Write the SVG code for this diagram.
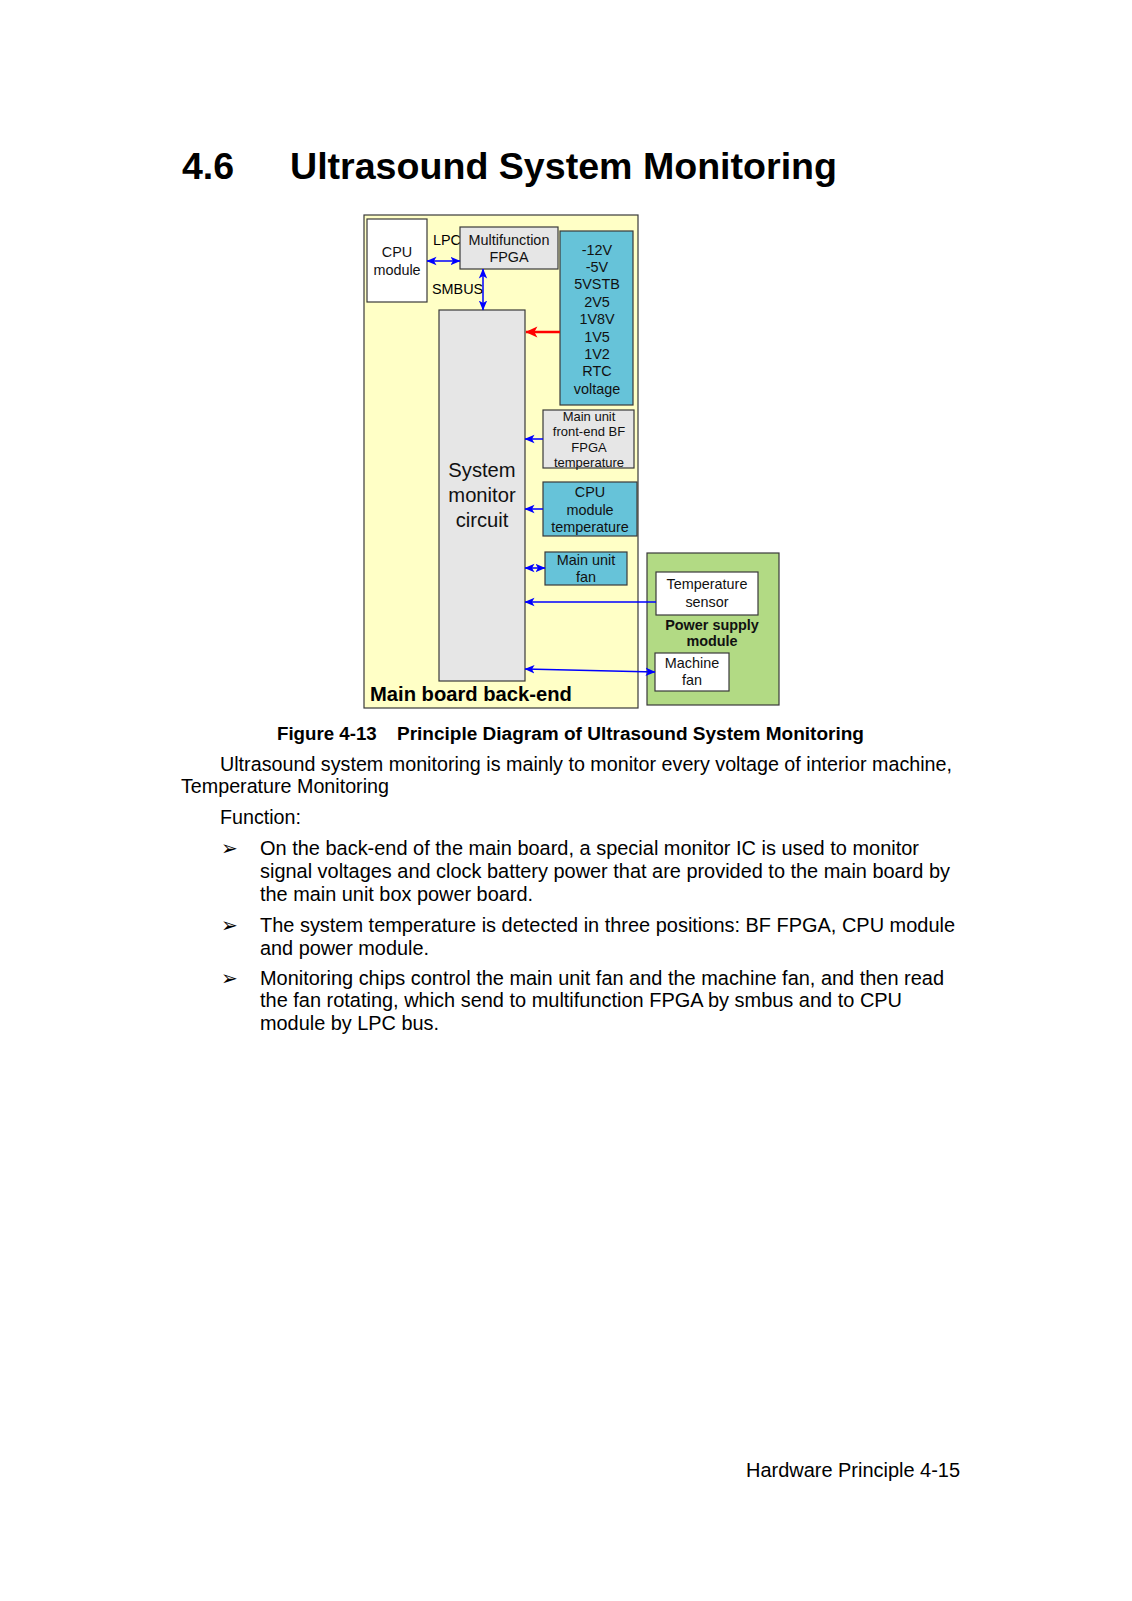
<svg xmlns="http://www.w3.org/2000/svg" width="1132" height="1601" viewBox="0 0 1132 1601">
<defs>
<style>
.t{font-family:"Liberation Sans",Arial,sans-serif;fill:#000}
.d{font-family:"Liberation Sans",Arial,sans-serif;font-size:14.4px;fill:#111;text-anchor:middle}
.sm{font-size:13px}
.big{font-size:20.2px}
.bd{font-weight:bold}
.b{stroke:#3a3a3a;stroke-width:1.2}
.c{stroke:#0000ff;stroke-width:1.5;fill:none}
.body{font-family:"Liberation Sans",Arial,sans-serif;font-size:19.7px;fill:#000}
.bul{font-family:"DejaVu Sans",sans-serif;font-size:20px;fill:#000}
</style>
<marker id="ab" viewBox="0 0 10 10" refX="9.5" refY="5" markerWidth="10" markerHeight="10" markerUnits="userSpaceOnUse" orient="auto-start-reverse">
<path d="M0,0.8 L10,5 L0,9.2 L2.5,5 Z" fill="#0000ff"/>
</marker>
<marker id="ar" viewBox="0 0 10 10" refX="9.5" refY="5" markerWidth="13" markerHeight="12" markerUnits="userSpaceOnUse" orient="auto">
<path d="M0,0.5 L10,5 L0,9.5 L2.5,5 Z" fill="#ff0000"/>
</marker>
</defs>
<rect width="1132" height="1601" fill="#fff"/>

<text class="t" x="182" y="179" font-size="37.5" font-weight="bold">4.6</text>
<text class="t" x="290" y="179" font-size="37.5" font-weight="bold" textLength="547" lengthAdjust="spacingAndGlyphs">Ultrasound System Monitoring</text>

<g id="main-board">
<rect class="b" x="364" y="215" width="274" height="493" fill="#ffffc6"/>
<text class="t" x="370" y="701" font-size="20.2" font-weight="bold">Main board back-end</text>
</g>

<g id="labels">
<text class="t" x="433" y="245" font-size="14.4">LPC</text>
<text class="t" x="432" y="294" font-size="14.4">SMBUS</text>
</g>

<g id="cpu-module">
<rect class="b" x="367" y="219" width="60" height="83" fill="#fff"/>
<text class="d" x="397" y="257">CPU</text>
<text class="d" x="397" y="275">module</text>
</g>

<g id="multifunction-fpga">
<rect class="b" x="460" y="227" width="98" height="42" fill="#e6e6e6"/>
<text class="d" x="509" y="245">Multifunction</text>
<text class="d" x="509" y="262">FPGA</text>
</g>

<g id="voltages">
<rect class="b" x="560" y="231" width="73" height="174" fill="#66c3d9"/>
<text class="d" x="597" y="254.5">-12V</text>
<text class="d" x="597" y="271.9">-5V</text>
<text class="d" x="597" y="289.3">5VSTB</text>
<text class="d" x="597" y="306.7">2V5</text>
<text class="d" x="597" y="324.1">1V8V</text>
<text class="d" x="597" y="341.5">1V5</text>
<text class="d" x="597" y="358.9">1V2</text>
<text class="d" x="597" y="376.3">RTC</text>
<text class="d" x="597" y="393.7">voltage</text>
</g>

<g id="system-monitor">
<rect class="b" x="439" y="310" width="86" height="371" fill="#e6e6e6"/>
<text class="d big" x="482" y="477">System</text>
<text class="d big" x="482" y="502">monitor</text>
<text class="d big" x="482" y="527">circuit</text>
</g>

<g id="bf-fpga-temp">
<rect class="b" x="543" y="410" width="91" height="58" fill="#e6e6e6"/>
<text class="d sm" x="589" y="420.5">Main unit</text>
<text class="d sm" x="589" y="436">front-end BF</text>
<text class="d sm" x="589" y="451.5">FPGA</text>
<text class="d sm" x="589" y="466.5">temperature</text>
</g>

<g id="cpu-temp">
<rect class="b" x="543" y="482" width="94" height="54" fill="#66c3d9"/>
<text class="d" x="590" y="497">CPU</text>
<text class="d" x="590" y="515">module</text>
<text class="d" x="590" y="532">temperature</text>
</g>

<g id="main-unit-fan">
<rect class="b" x="545" y="552" width="82" height="33" fill="#66c3d9"/>
<text class="d" x="586" y="565">Main unit</text>
<text class="d" x="586" y="582">fan</text>
</g>

<g id="power-supply">
<rect class="b" x="647" y="553" width="132" height="152" fill="#b2da84"/>
<text class="d bd" x="712" y="630">Power supply</text>
<text class="d bd" x="712" y="646">module</text>
</g>

<g id="temperature-sensor">
<rect class="b" x="656" y="572" width="102" height="43" fill="#fff"/>
<text class="d" x="707" y="589">Temperature</text>
<text class="d" x="707" y="606.5">sensor</text>
</g>

<g id="machine-fan">
<rect class="b" x="655" y="653" width="74" height="38" fill="#fff"/>
<text class="d" x="692" y="667.5">Machine</text>
<text class="d" x="692" y="685">fan</text>
</g>

<g id="connectors">
<line class="c" x1="427" y1="261" x2="460" y2="261" marker-start="url(#ab)" marker-end="url(#ab)"/>
<line class="c" x1="483" y1="269" x2="483" y2="310" marker-start="url(#ab)" marker-end="url(#ab)"/>
<line x1="560" y1="332" x2="526" y2="332" stroke="#ff0000" stroke-width="2.6" marker-end="url(#ar)"/>
<line class="c" x1="543" y1="439" x2="525" y2="439" marker-end="url(#ab)"/>
<line class="c" x1="543" y1="509" x2="525" y2="509" marker-end="url(#ab)"/>
<line class="c" x1="525" y1="568" x2="545" y2="568" marker-start="url(#ab)" marker-end="url(#ab)"/>
<line class="c" x1="656" y1="602" x2="525" y2="602" marker-end="url(#ab)"/>
<line class="c" x1="525" y1="669" x2="655" y2="672" marker-start="url(#ab)" marker-end="url(#ab)"/>
</g>

<g id="text">
<text class="t" x="277" y="740" font-size="18.7" font-weight="bold">Figure 4-13</text>
<text class="t" x="397" y="740" font-size="18.7" font-weight="bold" textLength="467" lengthAdjust="spacingAndGlyphs">Principle Diagram of Ultrasound System Monitoring</text>
<text class="body" x="220" y="771" textLength="732" lengthAdjust="spacingAndGlyphs">Ultrasound system monitoring is mainly to monitor every voltage of interior machine,</text>
<text class="body" x="181" y="793">Temperature Monitoring</text>
<text class="body" x="220" y="824">Function:</text>
<text class="bul" x="221" y="855">➢</text>
<text class="body" x="260" y="855" textLength="659" lengthAdjust="spacingAndGlyphs">On the back-end of the main board, a special monitor IC is used to monitor</text>
<text class="body" x="260" y="878" textLength="690" lengthAdjust="spacingAndGlyphs">signal voltages and clock battery power that are provided to the main board by</text>
<text class="body" x="260" y="901" textLength="273" lengthAdjust="spacingAndGlyphs">the main unit box power board.</text>
<text class="bul" x="221" y="932">➢</text>
<text class="body" x="260" y="932" textLength="695" lengthAdjust="spacingAndGlyphs">The system temperature is detected in three positions: BF FPGA, CPU module</text>
<text class="body" x="260" y="955" textLength="169" lengthAdjust="spacingAndGlyphs">and power module.</text>
<text class="bul" x="221" y="985">➢</text>
<text class="body" x="260" y="985" textLength="684" lengthAdjust="spacingAndGlyphs">Monitoring chips control the main unit fan and the machine fan, and then read</text>
<text class="body" x="260" y="1007" textLength="642" lengthAdjust="spacingAndGlyphs">the fan rotating, which send to multifunction FPGA by smbus and to CPU</text>
<text class="body" x="260" y="1030" textLength="179" lengthAdjust="spacingAndGlyphs">module by LPC bus.</text>
<text class="body" x="746" y="1477" textLength="214" lengthAdjust="spacingAndGlyphs">Hardware Principle 4-15</text>
</g>
</svg>
